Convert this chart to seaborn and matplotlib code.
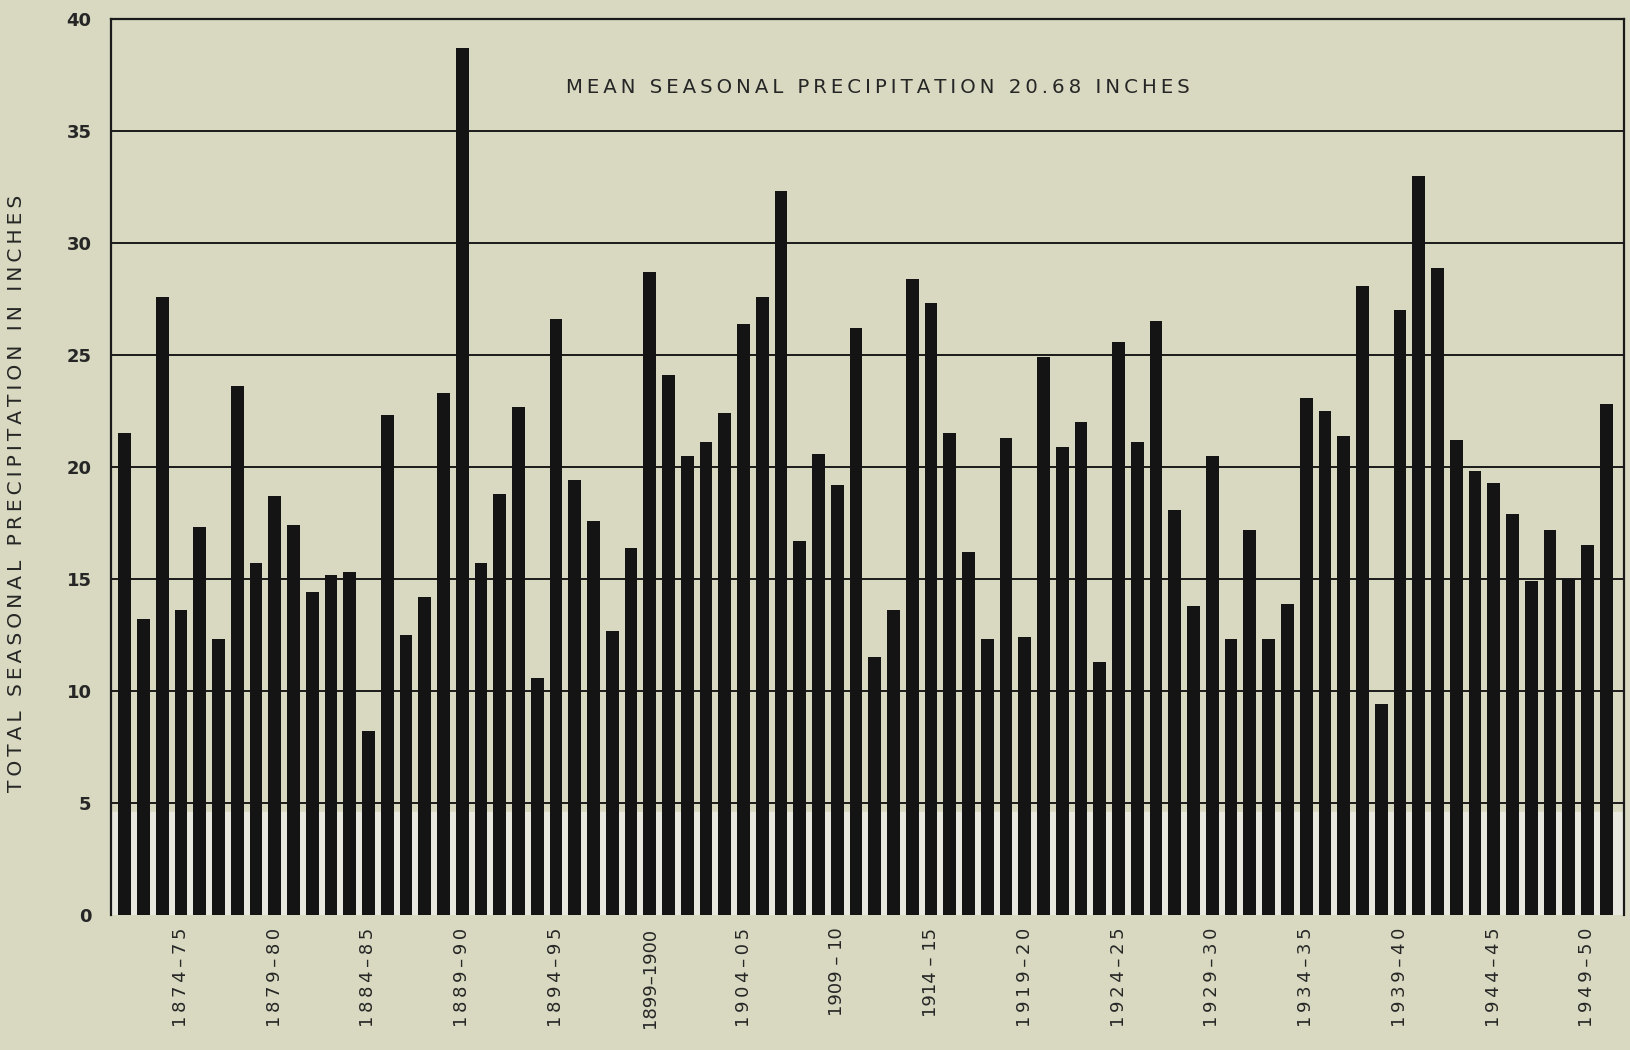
import matplotlib.pyplot as plt
import pandas as pd
import seaborn as sns

# Seasonal precipitation, 1871-72 through 1950-51 (inches)
first_season = 1871
precip = [
    21.5, 13.2, 27.6, 13.6, 17.3, 12.3, 23.6, 15.7, 18.7, 17.4,
    14.4, 15.2, 15.3, 8.2, 22.3, 12.5, 14.2, 23.3, 38.7, 15.7,
    18.8, 22.7, 10.6, 26.6, 19.4, 17.6, 12.7, 16.4, 28.7, 24.1,
    20.5, 21.1, 22.4, 26.4, 27.6, 32.3, 16.7, 20.6, 19.2, 26.2,
    11.5, 13.6, 28.4, 27.3, 21.5, 16.2, 12.3, 21.3, 12.4, 24.9,
    20.9, 22.0, 11.3, 25.6, 21.1, 26.5, 18.1, 13.8, 20.5, 12.3,
    17.2, 12.3, 13.9, 23.1, 22.5, 21.4, 28.1, 9.4, 27.0, 33.0,
    28.9, 21.2, 19.8, 19.3, 17.9, 14.9, 17.2, 15.0, 16.5, 22.8,
]
seasons = [f"{first_season + i}-{(first_season + i + 1) % 100:02d}" for i in range(len(precip))]

tick_seasons = ["1874-75", "1879-80", "1884-85", "1889-90", "1894-95", "1899-00",
                "1904-05", "1909-10", "1914-15", "1919-20", "1924-25", "1929-30",
                "1934-35", "1939-40", "1944-45", "1949-50"]
tick_labels = ["1874–75", "1879–80", "1884–85", "1889–90", "1894–95", "1899–1900",
               "1904–05", "1909 – 10", "1914 – 15", "1919–20", "1924–25", "1929–30",
               "1934–35", "1939–40", "1944–45", "1949–50"]
y_ticks = [0, 5, 10, 15, 20, 25, 30, 35, 40]

title = "MEAN SEASONAL PRECIPITATION 20.68 INCHES"
ylabel = "TOTAL SEASONAL PRECIPITATION IN INCHES"

df = pd.DataFrame({"season": seasons, "precip": precip})

paper = "#d8d9c0"
sns.set_style("white")
plt.rcParams["font.family"] = ["DejaVu Sans"]


def spaced(s, gap="\u2009"):
    # fake letter spacing
    return gap.join(s)


fig = plt.figure(figsize=(16.3, 10.5), dpi=100, facecolor=paper)
ax = fig.add_axes([111 / 1630, 1 - 915 / 1050, 1513 / 1630, 896 / 1050])
ax.set_facecolor(paper)

# lighter band near the bottom of the sheet
ax.axhspan(0, 4.6, color="#e8e8de", zorder=0)
for y in y_ticks[1:-1]:
    ax.axhline(y, color="#1a1a1a", lw=1.4, zorder=1)

sns.barplot(data=df, x="season", y="precip", color="#141414", width=0.68,
            saturation=1, edgecolor="#141414", linewidth=0, ax=ax, zorder=2)

ax.set_xlim(-0.73, len(precip) - 0.05)
ax.set_ylim(0, 40)

ax.set_yticks(y_ticks)
ax.set_yticklabels([str(v) for v in y_ticks], fontsize=13, fontweight="bold")
ax.set_xticks([seasons.index(s) for s in tick_seasons])
xlabels = [t if len(t) > 8 else spaced(t) for t in tick_labels]
ax.set_xticklabels(xlabels, rotation=90, fontsize=13, va="top")
ax.tick_params(axis="y", length=0, pad=14)
ax.tick_params(axis="x", length=0, pad=9)

ax.set_xlabel("")
ax.set_ylabel(spaced(ylabel), fontsize=14.5)
ax.yaxis.set_label_coords(-0.056, 0.471)

for side in ["left", "top", "right"]:
    ax.spines[side].set_color("#1a1a1a")
    ax.spines[side].set_linewidth(1.6)
ax.spines["bottom"].set_visible(False)

ax.text(0.507, 0.923, spaced(title), transform=ax.transAxes, ha="center",
        va="center", fontsize=14.2)

fig.savefig("out.png", dpi=100, facecolor=paper)
